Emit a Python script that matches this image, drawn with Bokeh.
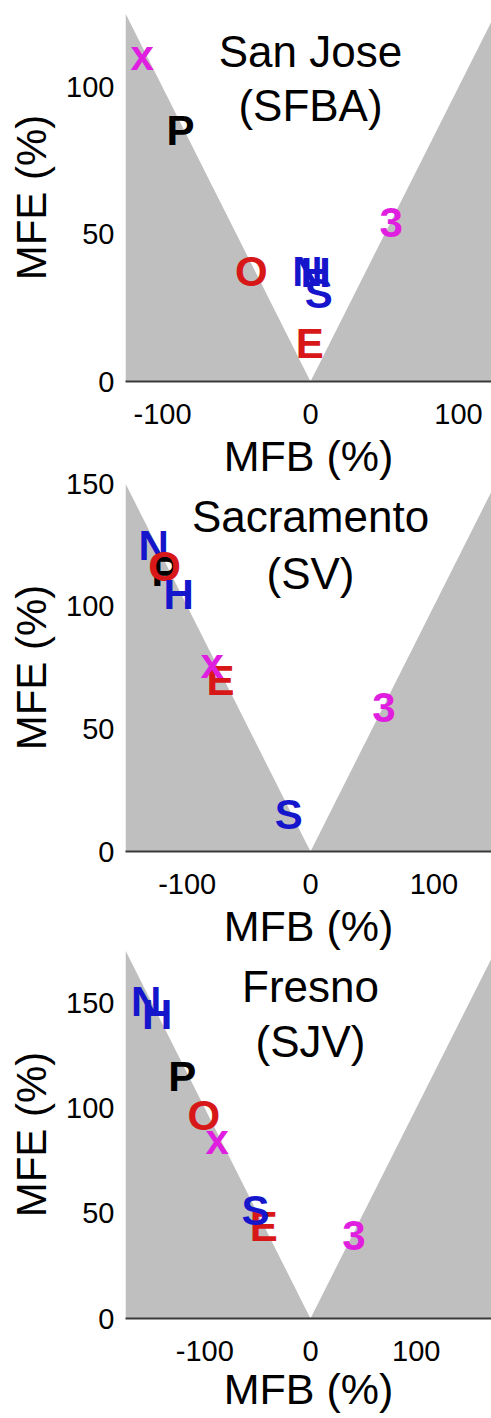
from bokeh.plotting import figure
from bokeh.layouts import column
from bokeh.models import Label, FixedTicker, ColumnDataSource, Range1d
from bokeh.core.properties import value
from bokeh.embed import file_html
from bokeh.resources import INLINE

# ---------------- data ----------------
cities = ["San Jose", "Sacramento", "Fresno"]
regions = ["(SFBA)", "(SV)", "(SJV)"]
axis_limits = [125, 150, 175]
y_tick_values = [[0, 50, 100], [0, 50, 100, 150], [0, 50, 100, 150]]
x_tick_values = [-100, 0, 100]

# model letters (draw order)
letters = ["N", "P", "O", "E", "S", "H", "x", "3"]
letter_colors = {"N": "#1515cc", "H": "#1515cc", "S": "#1515cc",
                 "O": "#d81818", "E": "#d81818",
                 "P": "#000000",
                 "x": "#e01ee0", "3": "#e01ee0"}

# San Jose (SFBA)
mfb_sj = [-2.0, -87.8, -40.0, -0.5, 5.6, 3.5, -113.7, 54.5]
mfe_sj = [37.5, 85.3, 37.3, 13.0, 30.0, 37.0, 110.9, 53.9]
# Sacramento (SV)
mfb_sv = [-127.1, -117.5, -118.4, -73.0, -17.6, -106.8, -79.7, 59.5]
mfe_sv = [124.6, 114.0, 116.1, 69.6, 15.2, 104.6, 76.6, 58.7]
# Fresno (SJV)
mfb_fr = [-155.5, -121.4, -100.9, -44.2, -52.0, -145.0, -88.3, 41.0]
mfe_fr = [150.9, 114.9, 96.7, 43.6, 51.5, 144.7, 85.2, 39.6]

mfb_all = [mfb_sj, mfb_sv, mfb_fr]
mfe_all = [mfe_sj, mfe_sv, mfe_fr]

FONT = "Liberation Sans"
GRAY = "#bfbfbf"

# layout (pixels / fractions of the frame height)
border_top = [13, 18, 18]
border_bottom = [104, 104, 100]
margin_top = [0, -20, -23]
label_standoff = [5, 5, 1]
title_frac = [(0.897, 0.749), (0.911, 0.756), (0.903, 0.752)]

figs = []
for i in range(3):
    L = axis_limits[i]
    p = figure(
        output_backend="svg", toolbar_location=None,
        frame_width=366, frame_height=368,
        min_border_left=125, min_border_right=0,
        min_border_top=border_top[i], min_border_bottom=border_bottom[i],
        margin=(margin_top[i], 0, 0, 0),
        x_range=Range1d(-L, L * 181.0 / 185.0), y_range=Range1d(0, L),
        background_fill_color="white", border_fill_color=None,
    )
    p.outline_line_color = None
    p.grid.visible = False

    # infeasible region (MFE < |MFB|)
    p.patches(xs=[[-L, 0, -L], [0, L, L]], ys=[[0, 0, L], [0, 0, L]],
              fill_color=GRAY, line_color=None)

    src = ColumnDataSource(dict(
        mfb=mfb_all[i], mfe=mfe_all[i], label=letters,
        color=[letter_colors[c] for c in letters]))
    p.text(x="mfb", y="mfe", text="label", source=src, text_color="color",
           text_font=value(FONT), text_font_style="bold",
           text_font_size=value("42px"), text_align="center",
           text_baseline="middle")

    # titles
    t1, t2 = title_frac[i]
    p.add_layout(Label(x=0, y=L * t1, text=cities[i], text_align="center",
                       text_baseline="middle", text_font=FONT,
                       text_font_size="44px", text_color="black"))
    p.add_layout(Label(x=0, y=L * t2, text=regions[i], text_align="center",
                       text_baseline="middle", text_font=FONT,
                       text_font_size="44px", text_color="black"))

    xa = p.xaxis[0]
    xa.ticker = FixedTicker(ticks=x_tick_values)
    xa.major_label_overrides = {t: str(t) for t in x_tick_values}
    xa.axis_label = "MFB (%)"
    xa.axis_label_text_font = FONT
    xa.axis_label_text_font_size = "43px"
    xa.axis_label_text_font_style = "normal"
    xa.axis_label_text_color = "black"
    xa.axis_label_standoff = label_standoff[i]
    xa.major_label_text_font = FONT
    xa.major_label_text_font_size = "29px"
    xa.major_label_text_color = "black"
    xa.major_label_standoff = 16
    xa.axis_line_color = "#3a3a3a"
    xa.axis_line_width = 2
    xa.major_tick_line_color = None
    xa.minor_tick_line_color = None

    ya = p.yaxis[0]
    ya.ticker = FixedTicker(ticks=y_tick_values[i])
    ya.major_label_overrides = {t: str(t) for t in y_tick_values[i]}
    ya.axis_label = "MFE (%)"
    ya.axis_label_text_font = FONT
    ya.axis_label_text_font_size = "42px"
    ya.axis_label_text_font_style = "normal"
    ya.axis_label_text_color = "black"
    ya.axis_label_standoff = 8
    ya.major_label_text_font = FONT
    ya.major_label_text_font_size = "29px"
    ya.major_label_text_color = "black"
    ya.major_label_standoff = 5
    ya.axis_line_color = None
    ya.major_tick_line_color = None
    ya.minor_tick_line_color = None

    figs.append(p)

layout = column(*figs, spacing=0)
open("out.html", "w").write(file_html(layout, INLINE))
